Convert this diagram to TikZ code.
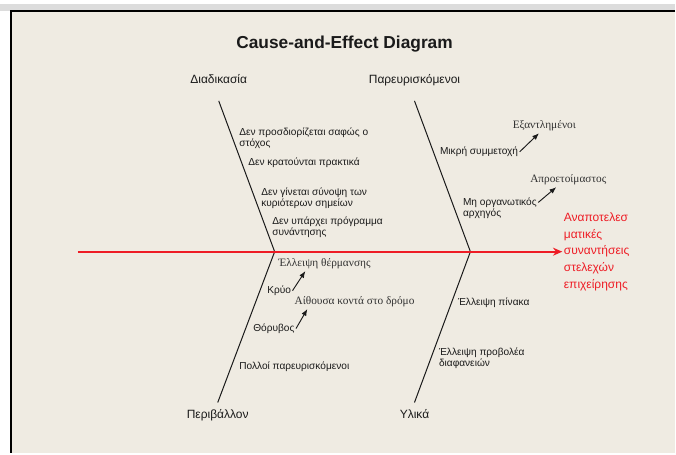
\documentclass[tikz,border=0pt]{standalone}
\usepackage{fontspec}
\setmainfont{Liberation Sans}
\newfontfamily\grserif{Liberation Serif}
\usetikzlibrary{arrows.meta,positioning,calc}
\definecolor{paper}{HTML}{EFEBE2}
\definecolor{strip}{HTML}{DCDCDC}
\definecolor{effred}{HTML}{EE1C25}
\definecolor{ink}{HTML}{1A1A1A}
\tikzset{
  ttl/.style={font=\fontsize{13}{15}\selectfont\bfseries, text=ink, inner sep=1pt},
  cat/.style={font=\fontsize{9}{11}\selectfont, text=ink, inner sep=1pt, text height=7pt, text depth=2pt},
  cause/.style={font=\fontsize{7.6}{8.3}\selectfont, text=ink, anchor=west, inner sep=1pt},
  subcause/.style={font=\grserif\fontsize{8.5}{10}\selectfont, text=ink!90, inner sep=1.5pt},
  effect/.style={font=\fontsize{9}{12.4}\selectfont, text=effred, anchor=west, inner sep=1pt},
  bone/.style={draw=ink, line width=0.75pt},
  spine/.style={-{Stealth[length=7pt,width=6pt]}, draw=effred, fill=effred, line width=1.4pt},
  subarrow/.style={-{Latex[length=5pt,width=4pt]}, draw=ink, line width=0.7pt},
  frame/.style={draw=black, line width=1.3pt}
}
\newcommand{\lines}[1]{\begin{tabular}{@{}l@{}}#1\end{tabular}}

\begin{document}
\begin{tikzpicture}[x=0.75pt, y=-0.75pt]
  \fill[white] (0,0) rectangle (676,454);
  \fill[strip] (0,4) rectangle (676,11);
  \fill[paper] (11,11) rectangle (676,454);
  \draw[frame] (676,11) -- (11,11) -- (11,454);
  \useasboundingbox (0,0) rectangle (676,454);

  \node[ttl] (title) at (345,44) {Cause-and-Effect Diagram};

  \coordinate (hL) at (275,252); \coordinate (hR) at (471,252);
  \coordinate (tUL) at (219,101); \coordinate (tLL) at (218,403);
  \coordinate (tUR) at (415,101); \coordinate (tLR) at (415,403);
  \coordinate (tail) at (78,252);

  \node[cat, above=9.5pt of tUL] (proc) {Διαδικασία};
  \node[cat, above=9.5pt of tUR] (pres) {Παρευρισκόμενοι};
  \node[cat, below=3.5pt of tLL] (env) {Περιβάλλον};
  \node[cat, below=3.5pt of tLR] (mat) {Υλικά};

  \draw[bone] (tUL) -- (hL) -- (tLL);
  \draw[bone] (tUR) -- (hR) -- (tLR);
  \node[effect] (eff) at (563,252) {\lines{Αναποτελεσ\\ματικές\\συναντήσεις\\στελεχών\\επιχείρησης}};
  \draw[spine] (tail) -- (eff.west);

  \node[cause] (c1) at (238,139) {\lines{Δεν προσδιορίζεται σαφώς ο\\στόχος}};
  \node[cause] (c2) at (247,163) {Δεν κρατούνται πρακτικά};
  \node[cause] (c3) at (260,199) {\lines{Δεν γίνεται σύνοψη των\\κυριότερων σημείων}};
  \node[cause] (c4) at (271,228) {\lines{Δεν υπάρχει πρόγραμμα\\συνάντησης}};

  \node[cause] (p1) at (439,152) {Μικρή συμμετοχή};
  \node[cause] (p2) at (462,209) {\lines{Μη οργανωτικός\\αρχηγός}};
  \node[subcause] (p1a) at (545,126) {Εξαντλημένοι};
  \node[subcause] (p2a) at (569,180) {Απροετοίμαστος};
  \draw[subarrow] (p1.east) -- ($(p1a.south west)!0.42!(p1a.south east)$);
  \draw[subarrow] ($(p2.north east)!0.25!(p2.south east)$) -- ($(p2a.south west)!0.35!(p2a.south east)$);

  \node[subcause] (e1) at (325,264) {Έλλειψη θέρμανσης};
  \node[cause] (e2) at (266,291) {Κρύο};
  \node[subcause] (e3) at (355,302) {Αίθουσα κοντά στο δρόμο};
  \node[cause] (e4) at (252,329) {Θόρυβος};
  \node[cause] (e5) at (238,367) {Πολλοί παρευρισκόμενοι};
  \draw[subarrow] (e2.east) -- ($(e1.south west)!0.3!(e1.south east)$);
  \draw[subarrow] (e4.east) -- ($(e3.south west)!0.12!(e3.south east)$);

  \node[cause] (m1) at (457,303) {Έλλειψη πίνακα};
  \node[cause] (m2) at (438,359) {\lines{Έλλειψη προβολέα\\διαφανειών}};
\end{tikzpicture}
\end{document}
